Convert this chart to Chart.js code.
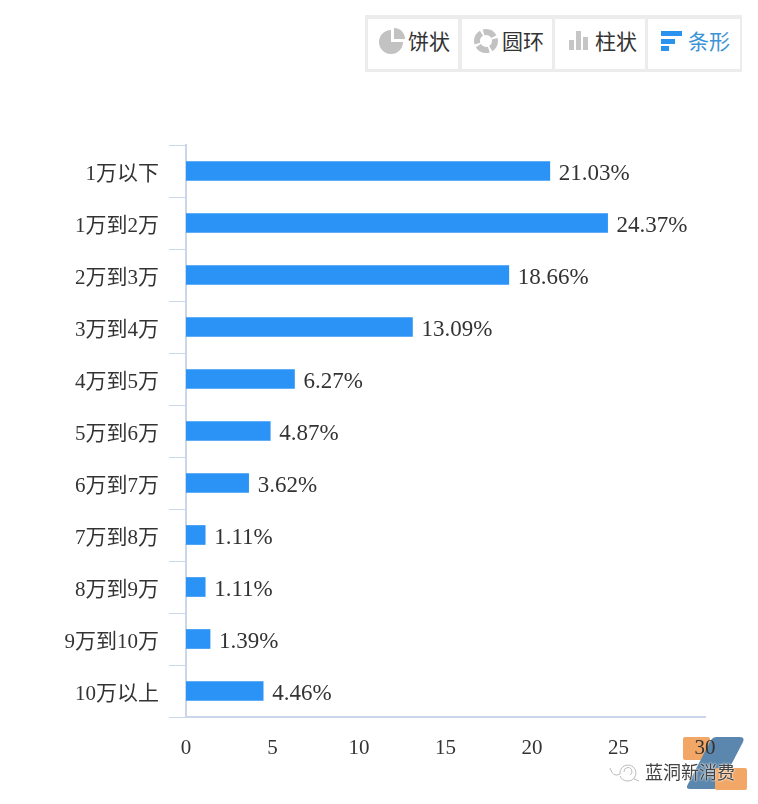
<!DOCTYPE html>
<html>
<head>
<meta charset="utf-8">
<script src="https://cdn.jsdelivr.net/npm/chart.js@4"></script>
<style>
html, body { margin: 0; padding: 0; background: #fff; }
body { width: 758px; height: 804px; position: relative; overflow: hidden; }
canvas { position: absolute; left: 0; top: 0; }
.bar { position: absolute; left: 365px; top: 15px; width: 377px; height: 57px; background: #ececec; }
.btn { position: absolute; top: 4px; height: 50px; background: #fff; font: 21px/42px "Noto Sans CJK SC", sans-serif; color: #333; }
.btn span { position: absolute; left: 40px; top: 0; white-space: nowrap; }
.btn svg { position: absolute; left: 11px; top: 9px; }
.logo { position: absolute; left: 0; top: 0; }
.wm { position: absolute; left: 645px; top: 758px; font: 18px/26px "Noto Sans CJK SC", sans-serif; color: #444; text-shadow: 0 0 2px #fff, 0 0 2px #fff; white-space: nowrap; }
</style>
</head>
<body>
<svg class="logo" width="758" height="804">
  <rect x="683" y="737" width="27" height="23" rx="2" fill="#f2a766"/>
  <path d="M716 737H740Q745 737 743 742L720 786Q718 789 714 789H690Q685 789 688 784L711 740Q713 737 716 737Z" fill="#5b86ad"/>
  <rect x="715" y="768" width="32" height="22" rx="2" fill="#f2a766"/>
  <g fill="none" stroke="#bdbdbd" stroke-width="1">
    <path d="M610 768Q613 778 620 774"/>
    <path d="M620 774A8 8 0 1 1 628 781Q622 781 620 776"/>
    <path d="M624 772A4 4 0 1 1 630 775"/>
    <path d="M634 779L639 781"/>
  </g>
</svg>
<canvas id="chartIncome" width="758" height="804"></canvas>
<div class="wm">蓝洞新消费</div>
<div class="bar">
  <div class="btn" style="left:3px;width:90px">
    <svg width="26" height="26"><path d="M12 2V14H24A12 12 0 1 1 12 2Z" fill="#c2c2c2"/><path d="M15 0A11 11 0 0 1 26 11H15Z" fill="#c2c2c2"/></svg>
    <span>饼状</span>
  </div>
  <div class="btn" style="left:97px;width:90px">
    <svg width="26" height="26"><circle cx="13" cy="13" r="9" fill="none" stroke="#c2c2c2" stroke-width="6" stroke-dasharray="12 2.2" stroke-dashoffset="3"/></svg>
    <span>圆环</span>
  </div>
  <div class="btn" style="left:190px;width:90px">
    <svg width="26" height="26"><rect x="3" y="12" width="5" height="10" fill="#c6c6c6"/><rect x="10" y="3" width="5" height="19" fill="#c6c6c6"/><rect x="17" y="9" width="5" height="13" fill="#c6c6c6"/></svg>
    <span>柱状</span>
  </div>
  <div class="btn" style="left:283px;width:92px;color:#3c93d6">
    <svg width="26" height="26"><rect x="2" y="3" width="21" height="5" fill="#2a93f0"/><rect x="2" y="11" width="14" height="5" fill="#2a93f0"/><rect x="2" y="18" width="8" height="5" fill="#2a93f0"/></svg>
    <span>条形</span>
  </div>
</div>
<script>
const categories = ['1万以下', '1万到2万', '2万到3万', '3万到4万', '4万到5万', '5万到6万', '6万到7万', '7万到8万', '8万到9万', '9万到10万', '10万以上'];
const shares = [21.03, 24.37, 18.66, 13.09, 6.27, 4.87, 3.62, 1.11, 1.11, 1.39, 4.46];
const xTicks = [0, 5, 10, 15, 20, 25, 30];

const axisColor = '#ccd6eb';
const fontFamily = '"Liberation Serif", "Noto Sans CJK SC", serif';

// percent text at the end of each bar
const valueLabels = {
    id: 'valueLabels',
    afterDatasetsDraw(chart) {
        const ctx = chart.ctx;
        ctx.save();
        ctx.font = '23px ' + fontFamily;
        ctx.fillStyle = '#333';
        ctx.textAlign = 'left';
        ctx.textBaseline = 'middle';
        chart.getDatasetMeta(0).data.forEach((bar, i) => {
            ctx.fillText(shares[i].toFixed(2) + '%', bar.x + 9, bar.y + 3);
        });
        ctx.restore();
    }
};

new Chart(document.getElementById('chartIncome').getContext('2d'), {
    type: 'bar',
    data: {
        labels: categories,
        datasets: [{
            data: shares,
            backgroundColor: '#2a93f5',
            barThickness: 19
        }]
    },
    options: {
        indexAxis: 'y',
        responsive: false,
        animation: false,
        layout: { padding: { left: 0, top: 145, right: 53, bottom: 0 } },
        plugins: { legend: { display: false }, tooltip: { enabled: false } },
        scales: {
            y: {
                afterFit(scale) { scale.width = 186; },
                border: { color: axisColor, width: 2 },
                grid: { color: axisColor, drawOnChartArea: false, tickLength: 17, offset: true },
                ticks: { color: '#333', font: { family: fontFamily, size: 21 }, padding: 10, labelOffset: 3 }
            },
            x: {
                min: 0,
                max: 30,
                afterFit(scale) { scale.height = 87; },
                afterBuildTicks(scale) { scale.ticks = xTicks.map(v => ({ value: v })); },
                border: { color: axisColor, width: 2 },
                grid: { display: false },
                ticks: { color: '#333', font: { family: fontFamily, size: 21 }, padding: 11, maxRotation: 0 }
            }
        }
    },
    plugins: [valueLabels]
});
</script>
</body>
</html>
